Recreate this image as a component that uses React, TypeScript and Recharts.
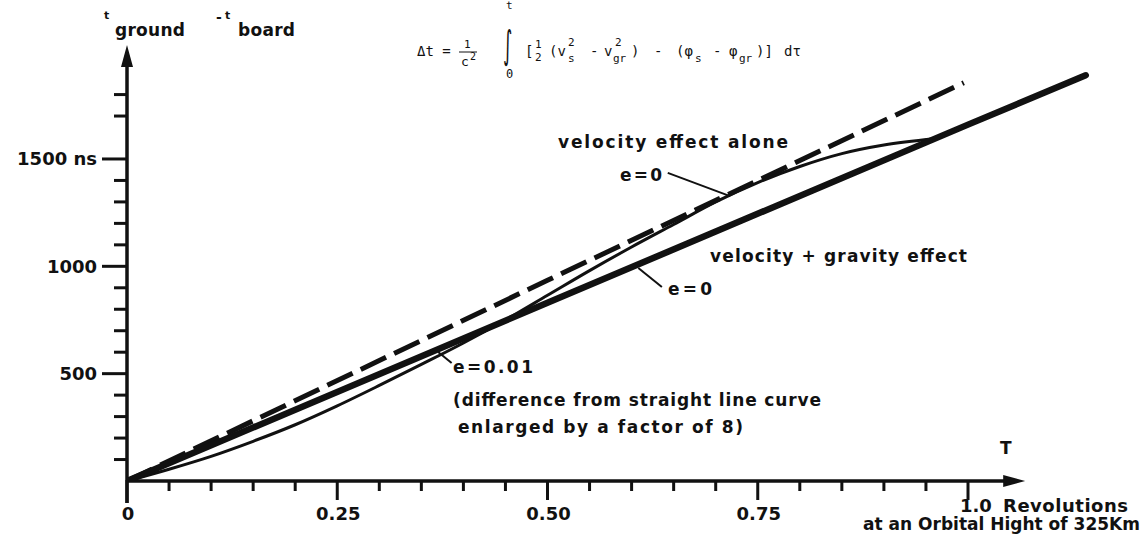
import React from 'react'
import { LineChart, Line, XAxis, YAxis, ReferenceLine, ReferenceDot } from 'recharts'

// revolutions T and t_ground - t_board in ns
const straightT = [0, 0.5, 1.0, 1.14]
const straightDt = [0, 830, 1660, 1890]
const velocityT = [0, 0.5, 0.995]
const velocityDt = [0, 935, 1855]
const ellipseT = [0, 0.05, 0.1, 0.15, 0.2, 0.25, 0.3, 0.35, 0.4, 0.45, 0.5, 0.55, 0.6, 0.65, 0.7, 0.75, 0.8, 0.85, 0.9, 0.96]
const ellipseDt = [0, 55, 115, 185, 262, 350, 445, 543, 643, 750, 865, 980, 1090, 1195, 1300, 1390, 1465, 1525, 1565, 1594]

const xMajor = [0, 0.25, 0.5, 0.75, 1.0]
const xMajorLabels = ['0', '0.25', '0.50', '0.75', '1.0']
const xMinor = [0.05, 0.1, 0.15, 0.2, 0.3, 0.35, 0.4, 0.45, 0.55, 0.6, 0.65, 0.7, 0.8, 0.85, 0.9, 0.95]
const yMajor = [500, 1000, 1500]
const yMajorLabels = ['500', '1000', '1500 ns']
const yMinor = [100, 200, 300, 400, 600, 700, 800, 900, 1100, 1200, 1300, 1400, 1700, 1800]

const toPoints = (t: number[], v: number[]) => t.map((x, i) => ({ x, y: v[i] }))
const straightData = toPoints(straightT, straightDt)
const velocityData = toPoints(velocityT, velocityDt)
const ellipseData = toPoints(ellipseT, ellipseDt)

const ink = '#111'
const bold = { fontFamily: 'DejaVu Sans', fontWeight: 700, fill: ink } as const
const mono = { fontFamily: 'DejaVu Sans Mono', fontSize: 14, fill: ink } as const

function XTick(props: any) {
  const { x, y, payload } = props
  const i = xMajor.indexOf(payload.value)
  if (i < 0) {
    return <line x1={x} x2={x} y1={y - 1} y2={y + 10} stroke={ink} strokeWidth={3} />
  }
  if (payload.value === 1.0) {
    return (
      <g>
        <line x1={x} x2={x} y1={y - 1} y2={y + 19} stroke={ink} strokeWidth={3} />
        <text x={x - 8} y={512} fontSize={18} {...bold}>1.0</text>
        <text x={x + 35} y={512} fontSize={18} textLength={125} {...bold}>Revolutions</text>
        <text x={1140} y={530} fontSize={17} textAnchor="end" {...bold}>at an Orbital Hight of 325Km</text>
      </g>
    )
  }
  return (
    <g>
      <line x1={x} x2={x} y1={y - 1} y2={y + (i === 0 ? 22 : 19)} stroke={ink} strokeWidth={3} />
      <text x={x + 1} y={520} fontSize={18} textAnchor="middle" {...bold}>{xMajorLabels[i]}</text>
    </g>
  )
}

function YTick(props: any) {
  const { x, y, payload } = props
  const i = yMajor.indexOf(payload.value)
  if (i < 0) {
    return <line x1={x - 13} x2={x} y1={y} y2={y} stroke={ink} strokeWidth={3} />
  }
  return (
    <g>
      <line x1={x - 25} x2={x} y1={y} y2={y} stroke={ink} strokeWidth={3} />
      <text x={x - 30} y={y + 6.5} fontSize={18} textAnchor="end" {...bold}>{yMajorLabels[i]}</text>
    </g>
  )
}

const arrowRight = (p: any) => (
  <polygon points={`${p.cx},${p.cy} ${p.cx - 22},${p.cy - 6} ${p.cx - 22},${p.cy + 6}`} fill={ink} />
)
const arrowUp = (p: any) => (
  <polygon points={`${p.cx},${p.cy} ${p.cx - 6},${p.cy + 22} ${p.cx + 6},${p.cy + 22}`} fill={ink} />
)

function Formula() {
  return (
    <g>
      <text x={417} y={56} {...mono}>Δt  =</text>
      <text x={464} y={48} {...mono} fontSize={11}>1</text>
      <line x1={459} x2={477} y1={52} y2={52} stroke={ink} strokeWidth={1} />
      <text x={461} y={66} {...mono} fontSize={13}>c</text>
      <text x={470} y={60} {...mono} fontSize={10}>2</text>
      <text x={506} y={9} {...mono} fontSize={11}>t</text>
      <text transform="translate(503,58) scale(0.8,1.75)" fontFamily="DejaVu Sans" fontSize={22} fill={ink}>∫</text>
      <text x={506} y={78} {...mono} fontSize={12}>0</text>
      <text x={525} y={56} {...mono}>[</text>
      <text x={535} y={48} {...mono} fontSize={11}>1</text>
      <text x={535} y={61} {...mono} fontSize={11}>2</text>
      <text x={549} y={56} {...mono}>(v</text>
      <text x={568} y={62} {...mono} fontSize={11}>s</text>
      <text x={568} y={46} {...mono} fontSize={11}>2</text>
      <text x={590} y={56} {...mono}>-</text>
      <text x={604} y={56} {...mono}>v</text>
      <text x={613} y={62} {...mono} fontSize={11}>gr</text>
      <text x={615} y={46} {...mono} fontSize={11}>2</text>
      <text x={631} y={56} {...mono}>)</text>
      <text x={654} y={56} {...mono}>-</text>
      <text x={676} y={56} {...mono}>(φ</text>
      <text x={695} y={62} {...mono} fontSize={11}>s</text>
      <text x={713} y={56} {...mono}>-</text>
      <text x={729} y={56} {...mono}>φ</text>
      <text x={739} y={62} {...mono} fontSize={11}>gr</text>
      <text x={756} y={56} {...mono}>)]</text>
      <text x={784} y={56} {...mono}>dτ</text>
    </g>
  )
}

function Labels() {
  return (
    <g>
      <text x={104} y={19} fontSize={11} {...bold}>t</text>
      <text x={115} y={36} fontSize={17} textLength={70} {...bold}>ground</text>
      <text x={216} y={22} fontSize={14} {...bold}>-</text>
      <text x={225} y={19} fontSize={11} {...bold}>t</text>
      <text x={238} y={36} fontSize={17} textLength={57} {...bold}>board</text>
      <text x={1000} y={454} fontSize={17} {...bold}>T</text>
      <text x={558} y={148} fontSize={17} textLength={230} {...bold}>velocity effect alone</text>
      <text x={620} y={181} fontSize={17} textLength={42} {...bold}>e=0</text>
      <text x={710} y={262} fontSize={17} textLength={257} {...bold}>velocity + gravity effect</text>
      <text x={668} y={295} fontSize={17} textLength={44} {...bold}>e=0</text>
      <text x={453} y={373} fontSize={17} textLength={80} {...bold}>e=0.01</text>
      <text x={453} y={406} fontSize={17} textLength={368} {...bold}>(difference from straight line curve</text>
      <text x={458} y={433} fontSize={17} textLength={285} {...bold}>enlarged by a factor of 8)</text>
    </g>
  )
}

export default function App() {
  const xTicks = [...xMajor, ...xMinor].sort((a, b) => a - b)
  const yTicks = [...yMinor, ...yMajor].sort((a, b) => a - b)
  return (
    <div style={{ position: 'absolute', left: 0, top: 0, width: 1143, height: 547, background: '#fff' }}>
      <LineChart width={1143} height={547} margin={{ top: 8.7, right: 6.8, left: 7, bottom: 6 }}>
        <XAxis
          type="number"
          dataKey="x"
          domain={[0, 1.2]}
          ticks={xTicks}
          interval={0}
          axisLine={false}
          tickLine={false}
          tickSize={0}
          tickMargin={0}
          height={60}
          tick={<XTick />}
          allowDataOverflow
        />
        <YAxis
          type="number"
          domain={[0, 2200]}
          ticks={yTicks}
          interval={0}
          axisLine={false}
          tickLine={false}
          tickSize={0}
          tickMargin={0}
          width={120}
          tick={<YTick />}
          allowDataOverflow
        />
        <ReferenceLine segment={[{ x: 0, y: 0 }, { x: 1.045, y: 0 }]} stroke={ink} strokeWidth={3.5} ifOverflow="visible" />
        <ReferenceLine segment={[{ x: 0, y: -102 }, { x: 0, y: 1995 }]} stroke={ink} strokeWidth={3.5} ifOverflow="visible" />
        <ReferenceDot x={1.068} y={0} r={1} shape={arrowRight} ifOverflow="visible" />
        <ReferenceDot x={0} y={2031} r={1} shape={arrowUp} ifOverflow="visible" />
        <ReferenceLine segment={[{ x: 0.643, y: 1435 }, { x: 0.717, y: 1327 }]} stroke={ink} strokeWidth={2} ifOverflow="visible" />
        <ReferenceLine segment={[{ x: 0.608, y: 992 }, { x: 0.636, y: 904 }]} stroke={ink} strokeWidth={2} ifOverflow="visible" />
        <ReferenceLine segment={[{ x: 0.37, y: 601 }, { x: 0.386, y: 550 }]} stroke={ink} strokeWidth={2} ifOverflow="visible" />
        <Line data={velocityData} dataKey="y" type="linear" stroke={ink} strokeWidth={5} strokeDasharray="28 9" dot={false} isAnimationActive={false} />
        <Line data={ellipseData} dataKey="y" type="monotone" stroke={ink} strokeWidth={3} dot={false} isAnimationActive={false} />
        <Line data={straightData} dataKey="y" type="linear" stroke={ink} strokeWidth={6.5} strokeLinecap="round" dot={false} isAnimationActive={false} />
        <Formula />
        <Labels />
      </LineChart>
    </div>
  )
}
